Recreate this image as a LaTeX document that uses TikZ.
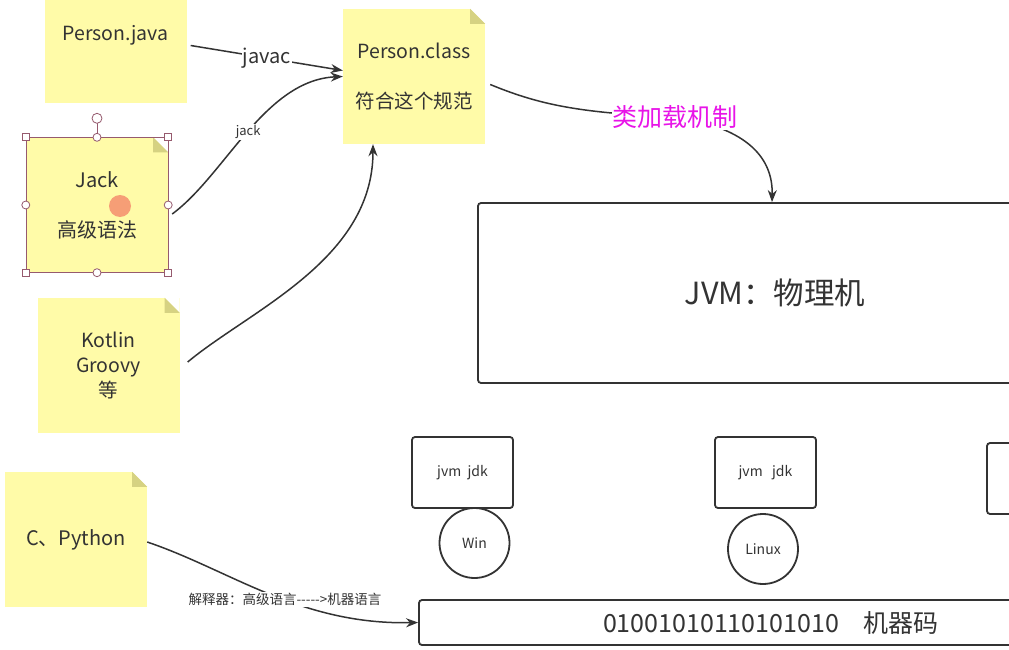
\documentclass[tikz,border=0pt]{standalone}
\usepackage{fontspec}
\setmainfont{Noto Sans CJK SC}[Ligatures=TeXOff]
\usepackage{xcolor}
\usepackage{tikz}
\usetikzlibrary{positioning,arrows.meta}

\definecolor{notey}{RGB}{255,251,168}
\definecolor{foldy}{RGB}{214,210,130}
\definecolor{ink}{RGB}{51,51,51}
\definecolor{selc}{RGB}{150,90,110}
\definecolor{dotc}{RGB}{246,158,118}
\definecolor{loadc}{RGB}{232,20,232}

\begin{document}
\begin{tikzpicture}[x=1pt,y=-1pt,
  sticky/.style={fill=notey,minimum width=142pt,minimum height=135pt,inner sep=0pt,
    align=center,text=ink,font=\fontsize{19.5}{25}\selectfont},
  box/.style={draw=ink,line width=1.8pt,rounded corners=3pt,text=ink,inner sep=0pt},
  os/.style={draw=ink,line width=1.8pt,circle,minimum size=70pt,inner sep=0pt,
    text=ink,font=\fontsize{14}{16}\selectfont},
  link/.style={draw=ink,line width=1.5pt,-{Stealth[length=12pt,width=9pt]}},
  tag/.style={fill=white,inner sep=1pt,text=ink}]

  \clip (0,0) rectangle (1009,650);
  \fill[white] (0,0) rectangle (1009,650);

  % sticky notes
  \node[sticky] (java) at (115.5,35.5) {Person.java};
  \node[sticky] (cls) at (414,76.5) {Person.class\\[25pt]符合这个规范};
  \node[sticky,font=\fontsize{20}{25}\selectfont] (jack) at (97,205) {Jack\\[25pt]高级语法};
  \node[sticky] (kot) at (108.5,365.5) {Kotlin\\Groovy\\等};
  \node[sticky,font=\fontsize{20}{25}\selectfont] (cpy) at (76,539.5) {C、Python};

  \foreach \n in {cls,jack,kot,cpy} {
    \fill[white] (\n.north east) -- ++(-15,0) -- ++(15,15) -- cycle;
    \fill[foldy] (\n.north east) ++(-15,0) -- ++(15,15) -- ++(-15,0) -- cycle;
  }

  % selection of Jack
  \draw[selc,line width=0.6pt] (jack.south west) rectangle (jack.north east);
  \draw[selc,line width=0.8pt] (jack.north) -- ++(0,-14) coordinate (rot);
  \draw[selc,line width=0.8pt,fill=white] ([yshift=5pt]rot) circle[radius=5pt];
  \foreach \a in {north west,north east,south west,south east}
    \draw[selc,line width=0.8pt,fill=white] ([shift={(-3.5,-3.5)}]jack.\a) rectangle ++(7,7);
  \foreach \a in {north,south,east,west}
    \draw[selc,line width=0.8pt,fill=white] (jack.\a) circle[radius=4pt];
  \fill[dotc] (120,206) circle[radius=11pt];

  % machine side
  \node[box,minimum width=594pt,minimum height=180pt,font=\fontsize{30.5}{32}\selectfont] (jvm) at (775,293) {JVM：物理机};
  \node[box,minimum width=101pt,minimum height=71pt,font=\fontsize{14}{16}\selectfont] (jdk1) at (462.5,472.5) {jvm\ \ jdk};
  \node[box,minimum width=101pt,minimum height=71pt,font=\fontsize{14}{16}\selectfont] (jdk2) at (765.5,472.5) {jvm\ \ \ jdk};
  \node[box,minimum width=101pt,minimum height=71pt] (jdk3) at (1037.5,478.5) {};
  \node[os] (win) at (474.5,543) {Win};
  \node[os] (linux) at (763,549) {Linux};
  \node[box,minimum width=704pt,minimum height=45pt,font=\fontsize{25}{27}\selectfont] (code) at (771,622.5) {01001010110101010\quad 机器码};

  % connectors
  \draw[link] ([xshift=4pt,yshift=-10pt]java.east) -- node[tag,pos=0.5,font=\fontsize{20}{22}\selectfont] {javac} ([yshift=6pt]cls.west);
  \draw[link] ([xshift=4pt,yshift=-9pt]jack.east) .. controls (225,175) and (265,80) .. node[tag,font=\fontsize{13}{15}\selectfont] {jack} (cls.west);
  \draw[link] ([xshift=8pt,yshift=3.5pt]kot.east) .. controls (250,310) and (373,260) .. ([xshift=-41pt]cls.south);
  \draw[link] ([xshift=5pt,yshift=-8pt]cls.east) .. controls (540,105) and (580,113) .. (675,117)
    node[tag,text=loadc,font=\fontsize{25}{27}\selectfont] {类加载机制}
    .. controls (750,128) and (773,160) .. ([xshift=-3pt]jvm.north);
  \draw[link] ([yshift=-2.5pt]cpy.east) .. controls (230,570) and (300,625) .. node[tag,pos=0.56,font=\fontsize{13.5}{15}\selectfont] {解释器：高级语言----->机器语言} (code.west);
\end{tikzpicture}
\end{document}
